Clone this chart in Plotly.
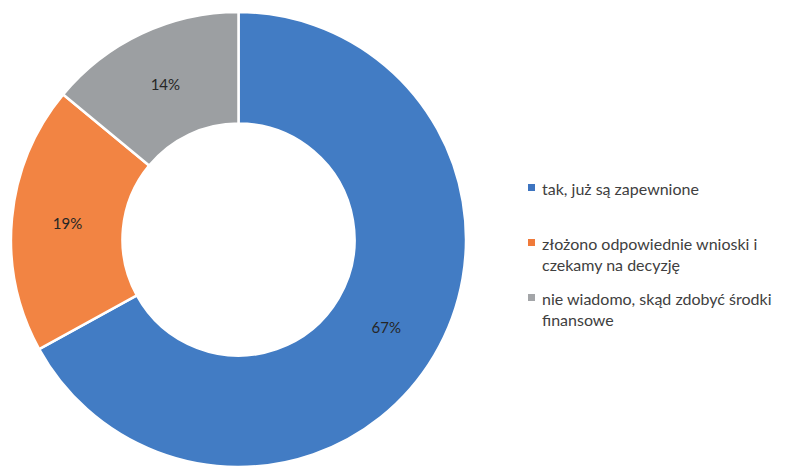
import plotly.graph_objects as go

# Survey answers and their shares (percent)
labels = [
    "tak, już są zapewnione",
    "złożono odpowiednie wnioski i<br>czekamy na decyzję",
    "nie wiadomo, skąd zdobyć środki<br>finansowe",
]
shares = [67, 19, 14]
colors = ["#427cc4", "#f28443", "#9c9fa2"]
key_colors = ["#3d74c0", "#f07a3a", "#a3a5a8"]

W, H = 787, 467
TOP = 12                 # top margin (px)
PLOT_H = H - TOP         # height of the paper area (px)


def py(px):
    """Convert a pixel row measured from the top of the figure to paper y."""
    return 1 - (px - TOP) / PLOT_H


fig = go.Figure(
    go.Pie(
        labels=labels,
        values=shares,
        hole=0.51,
        sort=False,
        direction="clockwise",
        rotation=0,
        marker=dict(colors=colors, line=dict(color="white", width=2.5)),
        texttemplate="%{value}%",
        textposition="inside",
        insidetextorientation="horizontal",
        textfont=dict(family="Lato", size=15, color="#262626"),
        domain=dict(x=[10 / W, 467 / W], y=[0, 1]),
        hoverinfo="label+percent",
        showlegend=False,
    )
)

# Key on the right: coloured square plus wrapped label for each slice
key_rows = [187.5, 242.5, 297.5]  # vertical centre of each entry's first line (px)
for label, col, yc in zip(labels, key_colors, key_rows):
    fig.add_shape(
        type="rect", xref="paper", yref="paper",
        x0=528 / W, x1=535 / W, y0=py(yc - 3.5), y1=py(yc + 3.5),
        fillcolor=col, line=dict(width=0),
    )
    fig.add_annotation(
        text=label, xref="paper", yref="paper",
        x=540 / W, y=py(yc - 11), xanchor="left", yanchor="top",
        align="left", showarrow=False,
        font=dict(family="Lato", size=16, color="#404040"),
    )

fig.update_layout(
    width=W,
    height=H,
    margin=dict(l=0, r=0, t=TOP, b=0),
    paper_bgcolor="white",
    plot_bgcolor="white",
    showlegend=False,
)

fig.write_html("out.html")
